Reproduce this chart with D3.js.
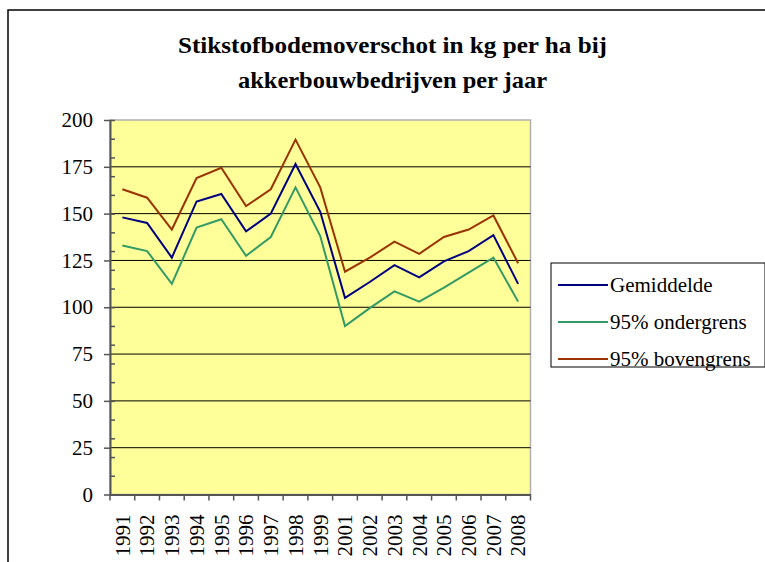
<!DOCTYPE html>
<html>
<head>
<meta charset="utf-8">
<script src="https://cdn.jsdelivr.net/npm/d3@7.9.0/dist/d3.min.js"></script>
<style>
  body { margin: 0; background: #fff; }
  svg { display: block; }
</style>
</head>
<body>
<svg id="chart" width="765" height="562" font-family="Liberation Serif"></svg>
<script>
// data (2000 is missing in the source)
const years = ["1991", "1992", "1993", "1994", "1995", "1996", "1997", "1998", "1999",
               "2001", "2002", "2003", "2004", "2005", "2006", "2007", "2008"];
const gemiddelde = [148, 145, 126.5, 156.5, 160.5, 140.5, 150, 176.5, 151,
                    105, 113.5, 122.5, 116, 124.5, 130, 138.5, 112.5];
const ondergrens = [133, 130, 112.5, 142.5, 147, 127.5, 137.5, 164, 138,
                    90, 99.5, 108.5, 103, 110.5, 118.5, 126.5, 103];
const bovengrens = [163, 158.5, 141.5, 169, 174.5, 154, 163, 189.5, 164,
                    119, 126.5, 135, 128.5, 137.5, 141.5, 149, 123.5];
const yTicks = [0, 25, 50, 75, 100, 125, 150, 175, 200];
const yMinor = d3.range(0, 201, 10);

const series = [
  { name: "Gemiddelde", values: gemiddelde, color: "#000080" },
  { name: "95% ondergrens", values: ondergrens, color: "#339966" },
  { name: "95% bovengrens", values: bovengrens, color: "#993300" }
];

const FONT = "Liberation Serif";
const svg = d3.select("#chart");
const plot = { left: 110, right: 530.5, top: 120, bottom: 494.5 };

// outer chart frame
svg.append("rect")
  .attr("x", 8).attr("y", 10)
  .attr("width", 770).attr("height", 570)
  .attr("fill", "#fff").attr("stroke", "#000").attr("stroke-width", 1.5);

// title
const title = svg.append("g")
  .attr("text-anchor", "middle");
title.append("text").attr("x", 392.5).attr("y", 53)
  .attr("font-family", FONT).style("font-family", FONT)
  .attr("font-weight", "bold").attr("font-size", 23)
  .attr("textLength", 429).attr("lengthAdjust", "spacingAndGlyphs")
  .text("Stikstofbodemoverschot in kg per ha bij");
title.append("text").attr("x", 392.5).attr("y", 88)
  .attr("font-family", FONT).style("font-family", FONT)
  .attr("font-weight", "bold").attr("font-size", 23)
  .attr("textLength", 309).attr("lengthAdjust", "spacingAndGlyphs")
  .text("akkerbouwbedrijven per jaar");

const x = d3.scaleBand().domain(years).range([plot.left, plot.right]).padding(0);
const y = d3.scaleLinear().domain([0, 200]).range([plot.bottom, plot.top]);

// plot background
svg.append("rect")
  .attr("x", plot.left).attr("y", plot.top)
  .attr("width", plot.right - plot.left).attr("height", plot.bottom - plot.top)
  .attr("fill", "#ffff99").attr("stroke", "#b0b0b0").attr("stroke-width", 1.5);

// gridlines
svg.append("g").selectAll("line")
  .data(yTicks.filter(d => d > 0 && d < 200))
  .join("line")
  .attr("x1", plot.left).attr("x2", plot.right)
  .attr("y1", d => y(d)).attr("y2", d => y(d))
  .attr("stroke", "#000").attr("stroke-width", 1);

// y axis (major ticks outside, labels)
const yAxis = svg.append("g")
  .attr("transform", `translate(${plot.left},0)`)
  .call(d3.axisLeft(y).tickValues(yTicks).tickSize(6).tickPadding(11).tickSizeOuter(0))
  .attr("font-family", FONT).attr("font-size", 21);
yAxis.select(".domain").attr("stroke", "#555").attr("stroke-width", 2);
yAxis.selectAll(".tick line").attr("stroke", "#555").attr("stroke-width", 1.5);
yAxis.selectAll("text").attr("fill", "#000").style("font-family", FONT).style("font-size", "21px");

// minor ticks inside
const yMinorAxis = svg.append("g")
  .attr("transform", `translate(${plot.left},0)`)
  .call(d3.axisRight(y).tickValues(yMinor).tickSize(5).tickFormat(""));
yMinorAxis.select(".domain").remove();
yMinorAxis.selectAll(".tick line").attr("stroke", "#555").attr("stroke-width", 1.5);

// x axis
const xAxis = svg.append("g")
  .attr("transform", `translate(0,${plot.bottom})`)
  .call(d3.axisBottom(x).tickSize(0).tickSizeOuter(0))
  .attr("font-family", FONT).attr("font-size", 21);
xAxis.select(".domain").attr("stroke", "#555").attr("stroke-width", 2);
xAxis.selectAll("text")
  .attr("fill", "#000").style("font-family", FONT).style("font-size", "21px")
  .attr("transform", "rotate(-90)")
  .attr("text-anchor", "end")
  .attr("x", -20).attr("y", 0).attr("dy", "0.35em");

// x ticks at category boundaries
const edges = years.map(d => x(d)).concat([plot.right]);
svg.append("g").selectAll("line")
  .data(edges)
  .join("line")
  .attr("x1", d => d).attr("x2", d => d)
  .attr("y1", plot.bottom).attr("y2", plot.bottom + 6)
  .attr("stroke", "#555").attr("stroke-width", 1.5);

// lines
const line = d3.line()
  .x((d, i) => x(years[i]) + x.bandwidth() / 2)
  .y(d => y(d));

svg.append("g").selectAll("path")
  .data([series[2], series[1], series[0]])
  .join("path")
  .attr("d", d => line(d.values))
  .attr("fill", "none")
  .attr("stroke", d => d.color)
  .attr("stroke-width", 2);

// legend
const legend = svg.append("g");
legend.append("rect")
  .attr("x", 551).attr("y", 263).attr("width", 214).attr("height", 104)
  .attr("fill", "#fff").attr("stroke", "#000").attr("stroke-width", 1);

const rows = legend.selectAll("g.row")
  .data(series)
  .join("g")
  .attr("class", "row")
  .attr("transform", (d, i) => `translate(0,${285 + i * 37})`);
rows.append("line")
  .attr("x1", 558).attr("x2", 608).attr("y1", 0).attr("y2", 0)
  .attr("stroke", d => d.color).attr("stroke-width", 2);
rows.append("text")
  .attr("x", 610).attr("y", 0).attr("dy", "0.33em")
  .attr("font-family", FONT).style("font-family", FONT)
  .attr("font-size", 21).attr("fill", "#000")
  .text(d => d.name);
</script>
</body>
</html>
